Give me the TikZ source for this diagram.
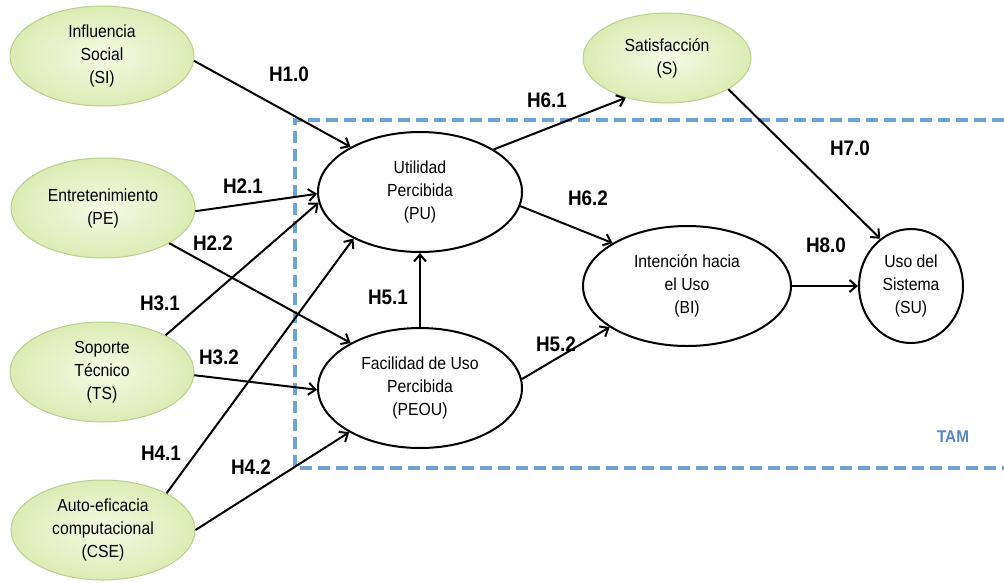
\documentclass[tikz,border=0pt]{standalone}
\usepackage{fontspec}
\setmainfont[FakeStretch=0.9]{Liberation Sans}
\usetikzlibrary{arrows.meta,shapes.geometric}
\definecolor{leafedge}{RGB}{185,208,140}
\definecolor{leafin}{RGB}{246,250,228}
\definecolor{leafout}{RGB}{220,235,180}
\definecolor{tamblue}{RGB}{112,162,212}
\definecolor{tamtext}{RGB}{85,135,200}

\begin{document}
\begin{tikzpicture}[x=1pt,y=-1pt,
  construct/.style={ellipse, draw=leafedge, line width=1pt, inner color=leafin,
    outer color=leafout, minimum width=184pt, minimum height=100pt, inner sep=0pt,
    align=center, font=\fontsize{17.5}{23}\selectfont},
  core/.style={ellipse, draw=black, line width=2pt, fill=white, inner sep=0pt,
    align=center, font=\fontsize{17.5}{23}\selectfont},
  link/.style={draw, line width=2pt, -{Straight Barb[length=7pt,width=12pt]}},
  hyp/.style={font=\bfseries\fontsize{21}{21}\selectfont}
]
\useasboundingbox (0,0) rectangle (1004,582);

% TAM frame
\draw[tamblue, line width=3.5pt, dash pattern=on 12pt off 6pt]
  (1004,120) -- (295,120) -- (295,468) -- (1004,468);
\node[font=\bfseries\fontsize{17}{17}\selectfont, text=tamtext] (tam) at (953,437) {TAM};

% external constructs
\node[construct] (SI)  at (102,56)  {Influencia\\Social\\(SI)};
\node[construct] (PE)  at (103,208) {Entretenimiento\\(PE)};
\node[construct] (TS)  at (102,372) {Soporte\\Técnico\\(TS)};
\node[construct] (CSE) at (103,530) {Auto-eficacia\\computacional\\(CSE)};
\node[construct, minimum width=168pt, minimum height=90pt] (S) at (667,58) {Satisfacción\\(S)};

% TAM constructs
\node[core, minimum width=204pt, minimum height=120pt] (PU)   at (420,192) {Utilidad\\Percibida\\(PU)};
\node[core, minimum width=204pt, minimum height=120pt] (PEOU) at (420,388) {Facilidad de Uso\\Percibida\\(PEOU)};
\node[core, minimum width=208pt, minimum height=120pt] (BI)   at (687,286) {Intención hacia\\el Uso\\(BI)};
\node[core, minimum width=104pt, minimum height=114pt] (SU)   at (911,286) {Uso del\\Sistema\\(SU)};

% hypotheses
\draw[link] (SI.-3)   -- (PU.147);
\draw[link] (PE.-2)   -- (PU.181);
\draw[link] (PE.-28)  -- (PEOU.147);
\draw[link] (TS.30)   -- (PU.186);
\draw[link] (TS.-2)   -- (PEOU.181);
\draw[link] (CSE.30)  -- (PU.215);
\draw[link] (CSE.0)   -- (PEOU.212);
\draw[link] (PEOU.north) -- (PU.south);
\draw[link] (PU.30)   -- (S.224);
\draw[link] (PU.-8)   -- (BI.150);
\draw[link] (PEOU.5)  -- (BI.208);
\draw[link] (S.-27)   -- (SU.123);
\draw[link] (BI.east) -- (SU.west);

% hypothesis labels
\node[hyp] (h10) at (289,74)  {H1.0};
\node[hyp] (h21) at (243,186) {H2.1};
\node[hyp] (h22) at (213,243) {H2.2};
\node[hyp] (h31) at (160,303) {H3.1};
\node[hyp] (h32) at (219,357) {H3.2};
\node[hyp] (h41) at (161,453) {H4.1};
\node[hyp] (h42) at (251,467) {H4.2};
\node[hyp] (h51) at (388,297) {H5.1};
\node[hyp] (h52) at (556,344) {H5.2};
\node[hyp] (h61) at (547,100) {H6.1};
\node[hyp] (h62) at (588,198) {H6.2};
\node[hyp] (h70) at (850,148) {H7.0};
\node[hyp] (h80) at (826,245) {H8.0};
\end{tikzpicture}
\end{document}
